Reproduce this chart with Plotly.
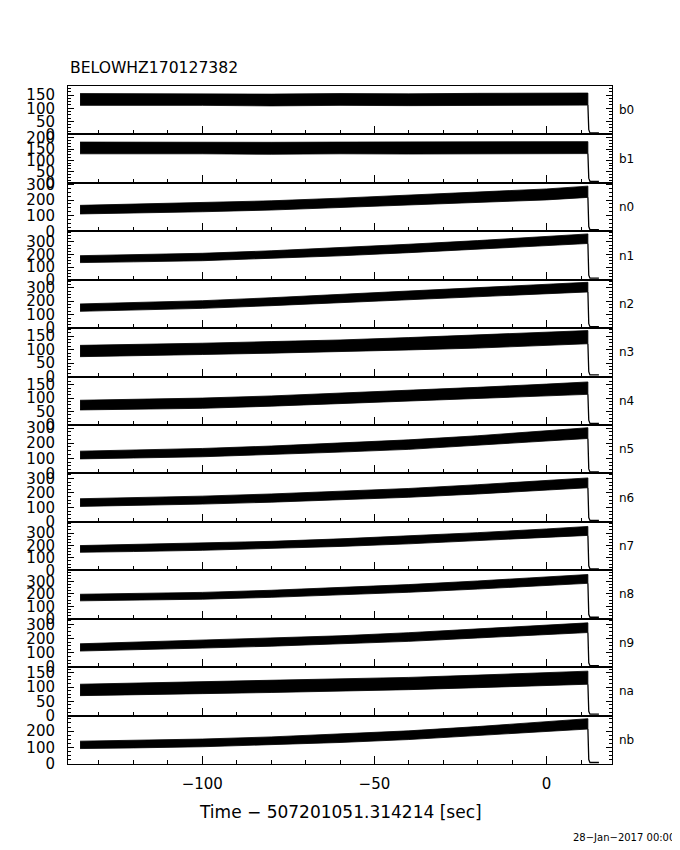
import plotly.graph_objects as go
from plotly.subplots import make_subplots

# ---------------- data ----------------
title_text = "BELOWHZ170127382"
x_title = "Time \u2212 507201051.314214 [sec]"
date_text = "28\u2212Jan\u22122017 00:00"

detectors = ["b0", "b1", "n0", "n1", "n2", "n3", "n4",
             "n5", "n6", "n7", "n8", "n9", "na", "nb"]

# knot times (s) of the count-rate envelope
T = [-135.5, -120, -100, -80, -60, -40, -20, 0, 12]
# after the last bin the rate drops to ~0
TAIL_T = [12.0, 12.25, 12.6, 15.2]

b0_hi = [156, 155, 156, 154, 156, 155, 157, 156, 158]
b0_lo = [111, 110, 111, 109, 111, 110, 112, 111, 112]
b1_hi = [181, 180, 182, 180, 181, 182, 181, 182, 183]
b1_lo = [129, 128, 129, 127, 129, 128, 130, 129, 130]
n0_hi = [166, 173, 182, 195, 212, 231, 250, 271, 289]
n0_lo = [111, 116, 125, 136, 151, 168, 184, 201, 217]
n1_hi = [191, 199, 210, 230, 254, 282, 311, 343, 364]
n1_lo = [136, 142, 151, 169, 190, 215, 242, 270, 288]
n2_hi = [180, 190, 204, 226, 250, 276, 300, 324, 341]
n2_lo = [125, 134, 147, 167, 189, 211, 233, 255, 269]
n3_hi = [116, 119, 124, 130, 136, 145, 154, 163, 171]
n3_lo = [74, 77, 82, 87, 92, 99, 106, 115, 122]
n4_hi = [92, 95, 100, 108, 118, 129, 140, 152, 160]
n4_lo = [56, 59, 62, 70, 78, 88, 98, 108, 114]
n5_hi = [147, 155, 165, 181, 200, 222, 249, 282, 302]
n5_lo = [96, 102, 110, 124, 141, 159, 184, 214, 231]
n6_hi = [160, 167, 178, 193, 210, 231, 257, 285, 304]
n6_lo = [107, 113, 123, 136, 151, 170, 193, 219, 236]
n7_hi = [199, 207, 218, 233, 253, 277, 303, 333, 353]
n7_lo = [145, 151, 161, 174, 192, 213, 237, 264, 281]
n8_hi = [197, 203, 212, 229, 250, 275, 304, 334, 356]
n8_lo = [144, 149, 157, 172, 191, 213, 239, 266, 285]
n9_hi = [164, 175, 188, 203, 220, 242, 268, 295, 311]
n9_lo = [113, 122, 134, 147, 163, 181, 205, 230, 243]
na_hi = [110, 114, 118, 122, 127, 134, 142, 150, 156]
na_lo = [70, 73, 77, 81, 85, 91, 98, 105, 110]
nb_hi = [139, 144, 152, 165, 182, 202, 228, 258, 276]
nb_lo = [94, 98, 105, 116, 131, 149, 172, 199, 213]

# residual level after the drop
tail_lvl = [6, 7, 10, 12, 11, 6, 6, 10, 10, 12, 12, 10, 5, 9]

# axis tops and major tick steps per panel
y_top = [185, 215, 310, 385, 360, 180, 180, 320, 335, 390, 390, 340, 170, 295]
y_step = [50, 50, 100, 100, 100, 50, 50, 100, 100, 100, 100, 100, 50, 100]

hi_list = [b0_hi, b1_hi, n0_hi, n1_hi, n2_hi, n3_hi, n4_hi,
           n5_hi, n6_hi, n7_hi, n8_hi, n9_hi, na_hi, nb_hi]
lo_list = [b0_lo, b1_lo, n0_lo, n1_lo, n2_lo, n3_lo, n4_lo,
           n5_lo, n6_lo, n7_lo, n8_lo, n9_lo, na_lo, nb_lo]

# ---------------- figure ----------------
FONT = "DejaVu Sans"
n = len(detectors)
fig = make_subplots(rows=n, cols=1, shared_xaxes=True, vertical_spacing=0)

for i, (hi, lo) in enumerate(zip(hi_list, lo_list)):
    r = i + 1
    fig.add_trace(go.Scatter(
        x=T + T[::-1], y=hi + lo[::-1], mode="lines", fill="toself",
        fillcolor="black", line=dict(color="black", width=0.8),
        hoverinfo="skip", showlegend=False), row=r, col=1)
    lvl = tail_lvl[i]
    fig.add_trace(go.Scatter(
        x=TAIL_T, y=[lo[-1], 3 * lvl, lvl, lvl], mode="lines",
        line=dict(color="black", width=1.3),
        hoverinfo="skip", showlegend=False), row=r, col=1)

    fig.update_yaxes(
        row=r, col=1, range=[0, y_top[i]], tickmode="linear", tick0=0,
        dtick=y_step[i], ticks="inside", ticklen=6, tickwidth=1,
        tickcolor="black", showline=True, linecolor="black", linewidth=1,
        mirror="ticks", showgrid=False, zeroline=False,
        tickfont=dict(family=FONT, size=15, color="black"),
        ticklabelstandoff=9,
        minor=dict(ticks="inside", ticklen=3, tickcolor="black",
                   dtick=y_step[i] / 4, showgrid=False))
    fig.update_xaxes(
        row=r, col=1, range=[-139, 19], tickmode="linear", tick0=0,
        dtick=50, ticks="inside", ticklen=8, tickwidth=1, tickcolor="black",
        showline=True, linecolor="black", linewidth=1, mirror=True,
        showgrid=False, zeroline=False,
        showticklabels=(r == n),
        tickfont=dict(family=FONT, size=15, color="black"),
        ticklabelstandoff=6,
        minor=dict(ticks="inside", ticklen=4, tickcolor="black", dtick=10,
                   showgrid=False))

    yref = "y domain" if r == 1 else f"y{r} domain"
    fig.add_annotation(text=detectors[i], xref="paper", yref=yref,
                       x=1.009, y=0.5, xanchor="left", yanchor="middle",
                       showarrow=False,
                       font=dict(family=FONT, size=12, color="black"))

fig.add_annotation(text=title_text, xref="paper", yref="paper",
                   x=0.0, y=1.0265, xanchor="left", yanchor="middle",
                   showarrow=False,
                   font=dict(family=FONT, size=15.6, color="black"))
fig.add_annotation(text=x_title, xref="paper", yref="paper",
                   x=0.5, y=-0.0708, xanchor="center", yanchor="middle",
                   showarrow=False,
                   font=dict(family=FONT, size=17, color="black"))
fig.add_annotation(text=date_text, xref="paper", yref="paper",
                   x=1.1195, y=-0.109, xanchor="right", yanchor="middle",
                   showarrow=False,
                   font=dict(family=FONT, size=10, color="black"))

# the page adds an 8 px body margin, so margins are shifted by 8 px
fig.update_layout(
    width=680, height=850, autosize=False,
    margin=dict(l=60, r=76, t=78, b=94),
    paper_bgcolor="white", plot_bgcolor="white",
    showlegend=False,
)

fig.write_html("out.html")
